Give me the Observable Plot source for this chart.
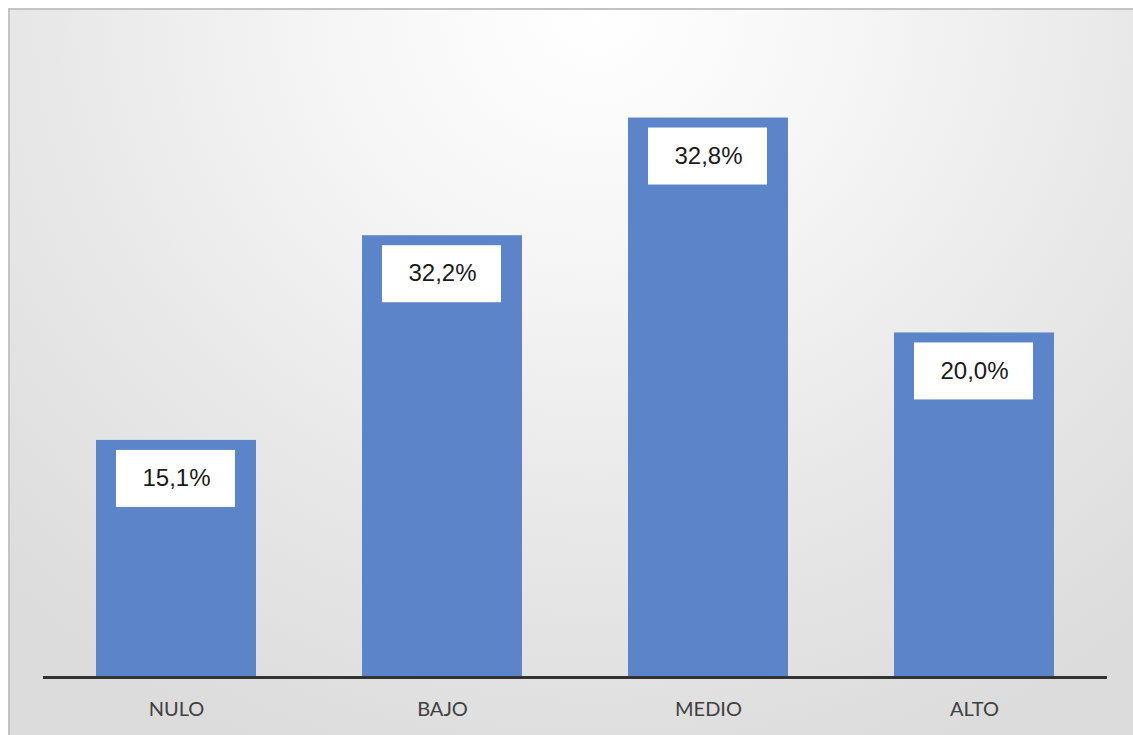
<!DOCTYPE html>
<html>
<head>
<meta charset="utf-8">
<script src="https://cdn.jsdelivr.net/npm/d3@7"></script>
<script src="https://cdn.jsdelivr.net/npm/@observablehq/plot@0.6"></script>
<style>
  html, body { margin: 0; padding: 0; background: #ffffff; width: 1133px; height: 735px; overflow: hidden; }
  #bg {
    position: absolute; left: 8px; top: 8px; width: 1125px; height: 727px;
    border-left: 2px solid #c4c4c4; border-top: 2px solid #c4c4c4; box-sizing: border-box;
    background: radial-gradient(ellipse 75% 110% at 52% 0%, #ffffff 0%, #f6f6f6 30%, #e8e8e8 65%, #dcdcdc 100%);
  }
  #chart { position: absolute; left: 0; top: 0; }
</style>
</head>
<body>
<div id="bg"></div>
<div id="chart"></div>
<script>
// Categories and printed values
const categories = ["NULO", "BAJO", "MEDIO", "ALTO"];
const labelValues = [15.1, 32.2, 32.8, 20.0];          // as printed on the bars (%)
const barHeights = [13.9, 25.9, 32.8, 20.2];            // bar lengths as drawn in the picture (same % scale as MEDIO)

const data = categories.map((c, i) => ({
  cat: c,
  h: barHeights[i],
  label: labelValues[i].toFixed(1).replace(".", ",") + "%"
}));

const chart = Plot.plot({
  width: 1133,
  height: 735,
  marginLeft: 43,
  marginRight: 26,
  marginTop: 80,
  marginBottom: 58,
  style: { background: "transparent", overflow: "visible" },
  x: {
    domain: categories,
    paddingInner: 0.4,
    paddingOuter: 0.2,
    label: null,
    tickSize: 0,
    tickPadding: 24
  },
  y: { domain: [0, 35], axis: null },
  marks: [
    Plot.barY(data, { x: "cat", y: "h", fill: "#5b84c9" }),
    Plot.barY(data, {
      x: "cat", y1: "h", y2: "h", fill: "#ffffff",
      insetLeft: 20, insetRight: 21, insetTop: 10, insetBottom: -67
    }),
    Plot.text(data, {
      x: "cat", y: "h", text: "label", dy: 38,
      fontSize: 24, fontFamily: "Liberation Sans, Arial, sans-serif", fill: "#1a1a1a"
    }),
    Plot.ruleY([0], { stroke: "#333333", strokeWidth: 3 }),
    Plot.axisX({
      tickSize: 0, tickPadding: 24, fontSize: 20,
      fontFamily: "Lato, 'Open Sans', sans-serif", color: "#404040", label: null
    })
  ]
});
document.getElementById("chart").appendChild(chart);
</script>
</body>
</html>
